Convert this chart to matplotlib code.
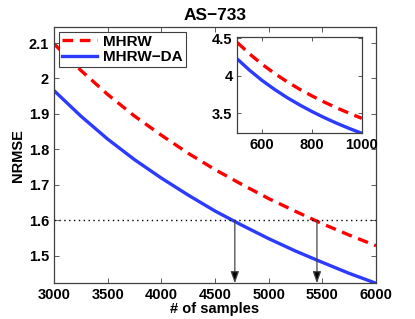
import numpy as np
import matplotlib
matplotlib.use('Agg')
import matplotlib.pyplot as plt

plt.rcParams['font.family'] = ['Liberation Sans', 'DejaVu Sans']
plt.rcParams['font.weight'] = 'bold'

# main curves
n_main = [3000, 3250, 3500, 3750, 4000, 4250, 4500, 4750, 5000, 5250, 5500, 5750, 6000]
mhrw = [2.098, 2.023, 1.955, 1.894, 1.840, 1.789, 1.743, 1.701, 1.661, 1.625, 1.590, 1.558, 1.528]
mhrw_da = [1.966, 1.894, 1.829, 1.771, 1.719, 1.671, 1.626, 1.586, 1.548, 1.513, 1.481, 1.450, 1.422]

# inset curves
n_ins = [500, 550, 600, 650, 700, 750, 800, 850, 900, 950, 1000]
mhrw_ins = [4.44, 4.286, 4.149, 4.027, 3.917, 3.818, 3.728, 3.645, 3.568, 3.497, 3.43]
mhrw_da_ins = [4.22, 4.068, 3.933, 3.814, 3.706, 3.609, 3.520, 3.438, 3.363, 3.294, 3.23]

# target level and where each curve reaches it
level = 1.6
hit_da = 4685
hit_rw = 5450

red = '#ff0000'
blue = '#2b3bff'
axcol = '#404040'

fig = plt.figure(figsize=(4.15, 3.19), dpi=100)
ax = fig.add_axes([0.130, 0.112, 0.776, 0.803])

ax.plot(n_main, mhrw, '--', color=red, lw=2.4, dashes=(3.2, 2.0), label='MHRW')
ax.plot(n_main, mhrw_da, '-', color=blue, lw=2.4, label='MHRW\u2212DA')
ax.axhline(level, color='k', lw=1.0, ls=(0, (1, 2.5)))

for xh in [hit_da, hit_rw]:
    ax.annotate('', xy=(xh, 1.422), xytext=(xh, level),
                arrowprops=dict(arrowstyle='-|>,head_width=0.25,head_length=0.7',
                                color='#444444', lw=0.9, fc='k', shrinkA=0, shrinkB=0))

ax.set_xlim(3000, 6000)
ax.set_ylim(1.422, 2.145)
ax.set_xticks(np.arange(3000, 6001, 500))
ax.set_yticks([1.5, 1.6, 1.7, 1.8, 1.9, 2.0, 2.1])
ax.set_yticklabels(['1.5', '1.6', '1.7', '1.8', '1.9', '2', '2.1'])
ax.tick_params(direction='in', top=True, right=True, length=3.5, width=0.6,
               color=axcol, labelsize=10.5, pad=3.5)
for s in ax.spines.values():
    s.set_color(axcol)
    s.set_linewidth(0.9)
ax.set_xlabel('# of samples', fontsize=10.5, fontweight='bold', labelpad=0)
ax.set_ylabel('NRMSE', fontsize=10.5, fontweight='bold', labelpad=3)
ax.set_title('AS\u2212733', fontsize=12.5, fontweight='bold', pad=5)

leg = ax.legend(loc='upper left', fontsize=11, handlelength=2.3, borderaxespad=0.3,
                fancybox=False, framealpha=1, borderpad=0.2, labelspacing=0.1,
                handletextpad=0.4)
leg.get_frame().set_edgecolor(axcol)
leg.get_frame().set_linewidth(0.8)

# inset
ins = fig.add_axes([0.572, 0.582, 0.300, 0.301])
ins.plot(n_ins, mhrw_ins, '--', color=red, lw=2.4, dashes=(3.2, 2.0))
ins.plot(n_ins, mhrw_da_ins, '-', color=blue, lw=2.4)
ins.set_xlim(500, 1000)
ins.set_ylim(3.23, 4.51)
ins.set_xticks([600, 800, 1000])
ins.set_yticks([3.5, 4, 4.5])
ins.set_yticklabels(['3.5', '4', '4.5'])
ins.tick_params(direction='in', top=True, right=True, length=3, width=0.6,
                color=axcol, labelsize=10.5, pad=3.5)
for s in ins.spines.values():
    s.set_color(axcol)
    s.set_linewidth(0.9)

fig.savefig('out.png', dpi=100)
